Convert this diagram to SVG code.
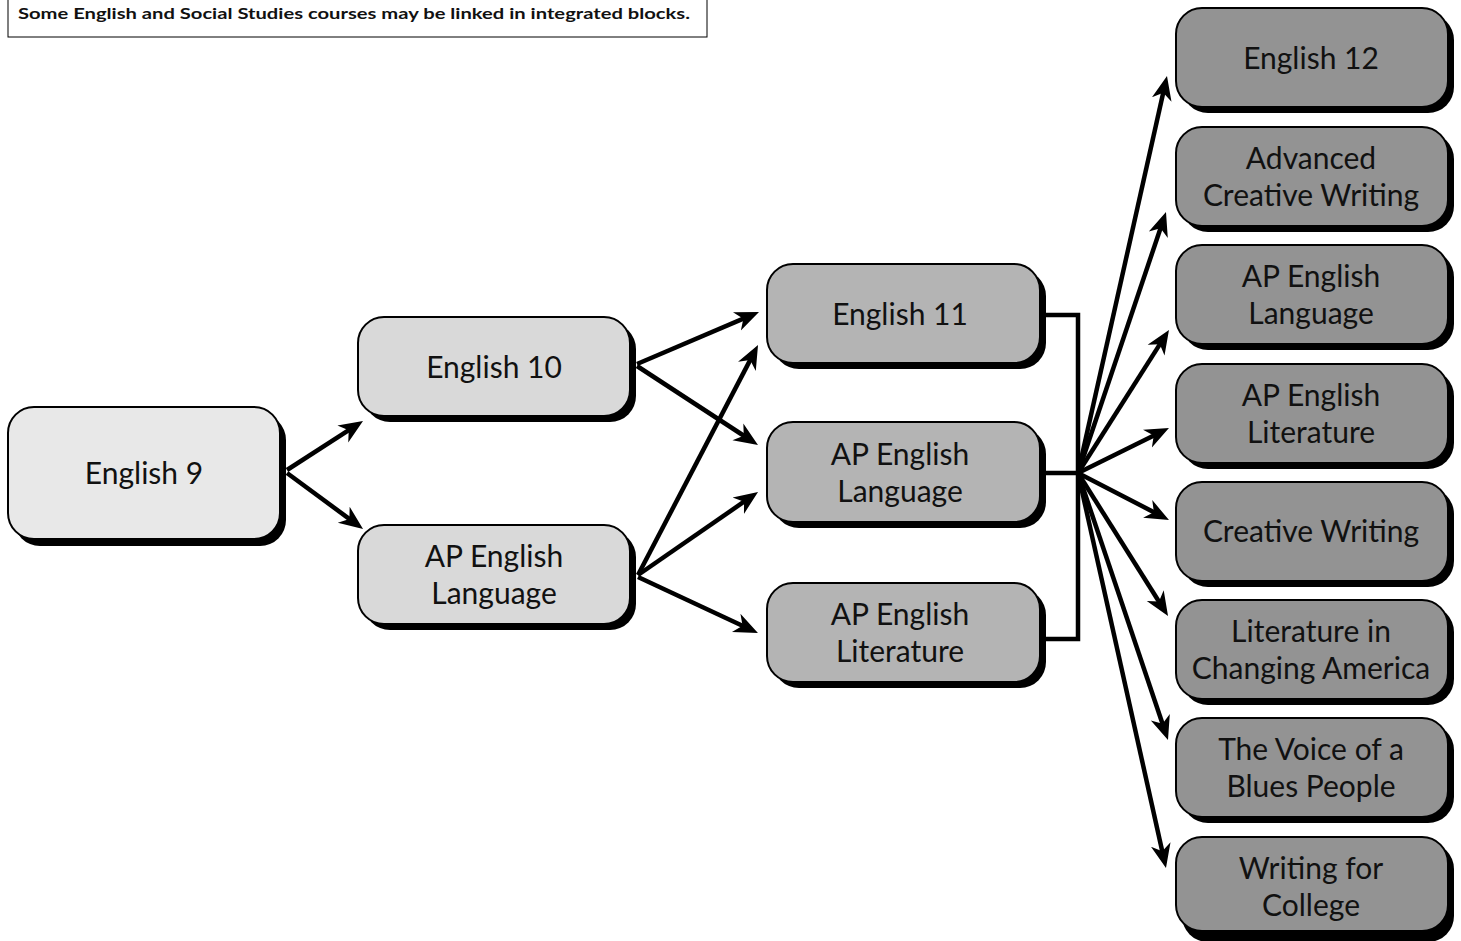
<svg xmlns="http://www.w3.org/2000/svg" width="1461" height="941" viewBox="0 0 1461 941">
<defs>
<style>
.sh{fill:#000}
.nd{stroke:#000;stroke-width:2}
.c1{fill:#e8e8e8}
.c2{fill:#d9d9d9}
.c3{fill:#b4b4b4}
.c4{fill:#939393}
.t{font-family:"Lato","Noto Sans","DejaVu Sans",sans-serif;font-size:30px;fill:#111;text-anchor:middle}
.note{font-family:"Lato","Noto Sans","DejaVu Sans",sans-serif;font-size:15.5px;font-weight:bold;fill:#111}
.ar{stroke:#000;stroke-width:4.5;fill:none;marker-end:url(#ah)}
.br{stroke:#000;stroke-width:4.5;fill:none}
</style>
<marker id="ah" markerUnits="userSpaceOnUse" markerWidth="30" markerHeight="26" viewBox="0 -13 30 26" refX="14" refY="0" orient="auto">
<path d="M0,-10 L24,0 L0,10 L7,0 Z" fill="#000"/>
</marker>
</defs>
<rect width="1461" height="941" fill="#fff"/>
<g id="note">
<rect x="8" y="-2" width="699" height="39" fill="#fff" stroke="#000" stroke-width="1"/>
<text class="note" x="18" y="19" textLength="672" lengthAdjust="spacingAndGlyphs">Some English and Social Studies courses may be linked in integrated blocks.</text>
</g>
<g id="connectors">
<line class="ar" x1="287" y1="470" x2="354.6" y2="426.4"/>
<line class="ar" x1="287" y1="473" x2="355" y2="523.1"/>
<line class="ar" x1="637" y1="364" x2="749.8" y2="315.9"/>
<line class="ar" x1="637" y1="366" x2="749.6" y2="439.5"/>
<line class="ar" x1="638" y1="575" x2="753.4" y2="353.9"/>
<line class="ar" x1="638" y1="575" x2="749.8" y2="497.7"/>
<line class="ar" x1="638" y1="577" x2="748.9" y2="628.8"/>
<path class="br" d="M1045,315 H1078 V639 H1045 M1045,473 H1078"/>
<line class="ar" x1="1078" y1="473" x2="1164.8" y2="85.8"/>
<line class="ar" x1="1078" y1="473" x2="1162.8" y2="221.5"/>
<line class="ar" x1="1078" y1="473" x2="1163.6" y2="338.4"/>
<line class="ar" x1="1078" y1="473" x2="1160" y2="432.4"/>
<line class="ar" x1="1078" y1="473" x2="1160.1" y2="515.4"/>
<line class="ar" x1="1078" y1="473" x2="1162.7" y2="607.5"/>
<line class="ar" x1="1078" y1="473" x2="1164.8" y2="730.5"/>
<line class="ar" x1="1078" y1="473" x2="1163.8" y2="858.2"/>
</g>
<g id="english9">
<rect class="sh" x="14" y="414" width="272" height="132" rx="26"/>
<rect class="nd c1" x="8" y="407" width="272" height="132" rx="26"/>
<text class="t" x="144" y="484">English 9</text>
</g>
<g id="english10">
<rect class="sh" x="364" y="323" width="272" height="99" rx="26"/>
<rect class="nd c2" x="358" y="317" width="272" height="99" rx="26"/>
<text class="t" x="494" y="378">English 10</text>
</g>
<g id="aplang2">
<rect class="sh" x="364" y="531" width="272" height="99" rx="26"/>
<rect class="nd c2" x="358" y="525" width="272" height="99" rx="26"/>
<text class="t" x="494" y="567">AP English</text>
<text class="t" x="494" y="604">Language</text>
</g>
<g id="english11">
<rect class="sh" x="773" y="270" width="273" height="99" rx="26"/>
<rect class="nd c3" x="767" y="264" width="273" height="99" rx="26"/>
<text class="t" x="900" y="325">English 11</text>
</g>
<g id="aplang3">
<rect class="sh" x="773" y="428" width="273" height="100" rx="26"/>
<rect class="nd c3" x="767" y="422" width="273" height="100" rx="26"/>
<text class="t" x="900" y="465">AP English</text>
<text class="t" x="900" y="502">Language</text>
</g>
<g id="aplit3">
<rect class="sh" x="773" y="589" width="273" height="99" rx="26"/>
<rect class="nd c3" x="767" y="583" width="273" height="99" rx="26"/>
<text class="t" x="900" y="625">AP English</text>
<text class="t" x="900" y="662">Literature</text>
</g>
<g id="english12">
<rect class="sh" x="1182" y="14" width="272" height="99" rx="26"/>
<rect class="nd c4" x="1176" y="8" width="272" height="99" rx="26"/>
<text class="t" x="1311" y="69">English 12</text>
</g>
<g id="advcw">
<rect class="sh" x="1182" y="133" width="272" height="99" rx="26"/>
<rect class="nd c4" x="1176" y="127" width="272" height="99" rx="26"/>
<text class="t" x="1311" y="169">Advanced</text>
<text class="t" x="1311" y="206">Creative Writing</text>
</g>
<g id="aplang4">
<rect class="sh" x="1182" y="251" width="272" height="99" rx="26"/>
<rect class="nd c4" x="1176" y="245" width="272" height="99" rx="26"/>
<text class="t" x="1311" y="287">AP English</text>
<text class="t" x="1311" y="324">Language</text>
</g>
<g id="aplit4">
<rect class="sh" x="1182" y="370" width="272" height="99" rx="26"/>
<rect class="nd c4" x="1176" y="364" width="272" height="99" rx="26"/>
<text class="t" x="1311" y="406">AP English</text>
<text class="t" x="1311" y="443">Literature</text>
</g>
<g id="cw">
<rect class="sh" x="1182" y="488" width="272" height="99" rx="26"/>
<rect class="nd c4" x="1176" y="482" width="272" height="99" rx="26"/>
<text class="t" x="1311" y="542">Creative Writing</text>
</g>
<g id="litca">
<rect class="sh" x="1182" y="606" width="272" height="99" rx="26"/>
<rect class="nd c4" x="1176" y="600" width="272" height="99" rx="26"/>
<text class="t" x="1311" y="642">Literature in</text>
<text class="t" x="1311" y="679">Changing America</text>
</g>
<g id="voice">
<rect class="sh" x="1182" y="724" width="272" height="99" rx="26"/>
<rect class="nd c4" x="1176" y="718" width="272" height="99" rx="26"/>
<text class="t" x="1311" y="760">The Voice of a</text>
<text class="t" x="1311" y="797">Blues People</text>
</g>
<g id="wfc">
<rect class="sh" x="1182" y="843" width="272" height="99" rx="26"/>
<rect class="nd c4" x="1176" y="837" width="272" height="94" rx="26"/>
<text class="t" x="1311" y="879">Writing for</text>
<text class="t" x="1311" y="916">College</text>
</g>
</svg>
